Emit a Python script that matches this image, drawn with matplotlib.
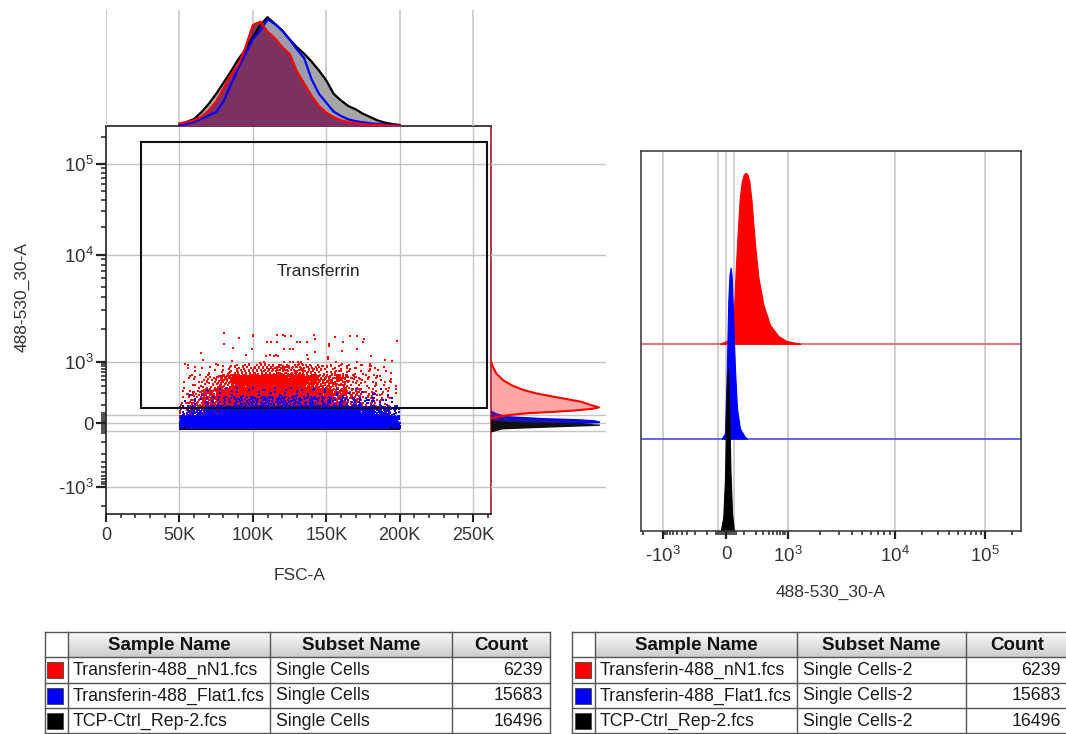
import numpy as np
import matplotlib
matplotlib.use('Agg')
import matplotlib.pyplot as plt
from matplotlib.patches import Rectangle
from matplotlib.ticker import FixedLocator, NullFormatter

plt.rcParams['font.family'] = ['Liberation Sans', 'DejaVu Sans']
plt.rcParams['mathtext.fontset'] = 'custom'
plt.rcParams['mathtext.rm'] = 'Liberation Sans'
plt.rcParams['mathtext.it'] = 'Liberation Sans:italic'
plt.rcParams['mathtext.bf'] = 'Liberation Sans:bold'

# ---------------- data ----------------
SAMPLES = ['Transferin-488_nN1.fcs', 'Transferin-488_Flat1.fcs', 'TCP-Ctrl_Rep-2.fcs']
SUBSETS_LEFT = ['Single Cells', 'Single Cells', 'Single Cells']
SUBSETS_RIGHT = ['Single Cells-2', 'Single Cells-2', 'Single Cells-2']
COUNTS = [6239, 15683, 16496]
COLORS = ['#ff0000', '#0000ff', '#000000']
TABLE_HEADERS = ['Sample Name', 'Subset Name', 'Count']

X_LABEL_LEFT = 'FSC-A'
Y_LABEL_LEFT = '488-530_30-A'
X_LABEL_RIGHT = '488-530_30-A'
GATE_NAME = 'Transferrin'
GATE_X = (23600, 259400)
GATE_Y = (82, 175000)

FSC_TICKS = [0, 50000, 100000, 150000, 200000, 250000]
FSC_TICK_LABELS = ['0', '50K', '100K', '150K', '200K', '250K']
FL_TICKS = [-1000, 0, 1000, 10000, 100000]
FL_TICK_LABELS = ['-$\\mathregular{10^3}$', '0', '$\\mathregular{10^3}$',
                  '$\\mathregular{10^4}$', '$\\mathregular{10^5}$']

# FSC-A marginal histograms (% of mode), bins 50K..200K every 5K
FSC_BINS = [50000, 55000, 60000, 65000, 70000, 75000, 80000, 85000, 90000, 95000,
            100000, 105000, 110000, 115000, 120000, 125000, 130000, 135000, 140000,
            145000, 150000, 155000, 160000, 165000, 170000, 175000, 180000, 185000,
            190000, 195000, 200000]
FSC_HIST_RED = [2.4, 3.7, 5.2, 8.5, 14, 22, 34, 46, 55, 71, 91, 94, 85, 79, 71, 65,
                49, 38, 27, 18, 12, 8, 5, 3.7, 2.4, 1.8, 1.2, 0.9, 0.6, 0.3, 0]
FSC_HIST_BLUE = [0.3, 1.8, 3.7, 6.4, 9.5, 12.5, 22, 37, 52, 65, 78, 86, 96, 92, 86, 78,
                 69, 61, 42, 29, 21, 13, 9, 6, 4.3, 3.4, 2.4, 1.8, 1.2, 0.9, 0.3]
FSC_HIST_BLACK = [0.9, 3.7, 6.4, 12.5, 20, 29, 39, 49, 60, 69, 80, 91, 98, 92, 86, 78,
                  71, 65, 58, 50, 41, 29, 23, 18, 15, 11, 8, 5, 3, 1.8, 0.9]

# 488-530_30-A marginal of the dot plot (% of mode)
MARG_RED_V = [22, 30, 40, 50, 57, 65, 75, 84, 100, 124, 145, 166, 200, 240, 300, 400, 550, 750, 1000]
MARG_RED_H = [0, 6, 17, 35, 58, 78, 94, 100, 92, 83, 70, 58, 42, 30, 20, 11, 5, 2, 0]
MARG_BLUE_V = [-30, -15, -5, 0, 5, 10, 15, 20, 30, 45, 60]
MARG_BLUE_H = [0, 5, 40, 80, 100, 95, 80, 50, 15, 5, 0]
MARG_BLACK_V = [-40, -25, -15, -8, -3, 2, 8, 15]
MARG_BLACK_H = [0, 10, 60, 100, 80, 30, 5, 0]

# offset histograms (right panel), % of mode
HIST_RED_V = [-29, 3, 28, 40, 50, 60, 72, 85, 98, 111, 125, 140, 160, 194, 232, 301, 422, 640, 962, 1218, 1310]
HIST_RED_H = [0, 1.6, 3, 20, 45, 65, 85, 95, 99, 100, 99, 95, 83, 58, 39, 23, 11, 4.5, 1.6, 0.4, 0]
HIST_BLUE_V = [-21, -5, 3, 11, 17, 23, 28, 33, 45, 56, 73, 103, 121]
HIST_BLUE_H = [0, 3, 35, 80, 96, 100, 95, 80, 41, 18, 6, 1.4, 0]
HIST_BLACK_V = [-25, -13, -5, 0, 5, 10, 15, 22, 30, 40]
HIST_BLACK_H = [0, 8, 30, 60, 88, 95, 75, 35, 10, 0]

# dot-plot event density (events per cell), FSC columns 50K..200K by 10K
FSC_COL_EDGES = [50000, 60000, 70000, 80000, 90000, 100000, 110000, 120000, 130000,
                 140000, 150000, 160000, 170000, 180000, 190000, 200000]
RED_BANDS = [0, 50, 100, 200, 400, 700, 1500]
RED_GRID = [
    [10, 15, 15, 8, 3, 1],
    [18, 30, 35, 20, 6, 1],
    [30, 70, 90, 50, 12, 2],
    [45, 130, 200, 110, 25, 4],
    [55, 180, 300, 190, 40, 6],
    [60, 200, 350, 240, 55, 8],
    [55, 190, 340, 240, 60, 10],
    [50, 170, 300, 220, 58, 10],
    [40, 130, 230, 170, 50, 9],
    [28, 85, 140, 110, 38, 8],
    [18, 50, 80, 65, 28, 7],
    [12, 30, 45, 40, 20, 6],
    [8, 18, 26, 24, 13, 5],
    [4, 9, 13, 12, 8, 3],
    [2, 4, 5, 5, 3, 2],
]
BLUE_BANDS = [-20, 0, 30, 80, 150, 250]
BLUE_COL = [150, 350, 700, 1000, 1300, 1500, 1550, 1500, 1400, 1250, 1100, 900, 700, 450, 200]
BLUE_FRAC = [0.35, 0.45, 0.17, 0.025, 0.005]
BLACK_BANDS = [-30, -15, 0]
BLACK_COL = [200, 500, 900, 1300, 1600, 1800, 1800, 1700, 1600, 1400, 1200, 1000, 800, 500, 250]
BLACK_FRAC = [0.5, 0.5]

# ---------------- biexponential-like scale ----------------
C = 100.0
ANCH_V = np.array([-1e6, -3000, -1000, 0, 1000, 10000, 100000, 262144, 1e7])
ANCH_P = np.array([-263, -95, -63.5, 0, 61.5, 168.5, 259, 297, 441])
ANCH_U = np.arcsinh(ANCH_V / C)


def fwd(v):
    return np.interp(np.arcsinh(np.asarray(v, float) / C), ANCH_U, ANCH_P)


def inv(p):
    return C * np.sinh(np.interp(np.asarray(p, float), ANCH_P, ANCH_U))


def minor_vals():
    out = []
    for s in (-1, 1):
        for m in (10, 20, 30, 40, 50):
            out.append(s * m)
        for e in (2, 3, 4, 5):
            for m in range(1, 10):
                val = m * 10 ** e
                if val in (1000, 10000, 100000):
                    continue
                if s < 0 and val > 3000:
                    continue
                if val > 262144:
                    continue
                out.append(s * val)
    return out


MINORS = minor_vals()
GRID_FL = [-1000, -40, 0, 40, 1000, 10000, 100000]

W, H = 1066, 734
fig = plt.figure(figsize=(W / 100, H / 100), dpi=100)


def fax(x0, y0, x1, y1, **kw):
    return fig.add_axes([x0 / W, 1 - y1 / H, (x1 - x0) / W, (y1 - y0) / H], **kw)


TXT = '#333333'
GRIDC = '#c4c4c4'

# ---------------- tables (background axes) ----------------
tab = fax(0, 0, W, H)
tab.set_xlim(0, W)
tab.set_ylim(H, 0)
tab.axis('off')
tab.patch.set_alpha(0)


def draw_table(edges, subsets, sw_off):
    top, hdr = 632, 657
    rows = [657, 683, 708, 733]
    grad = np.linspace(0.98, 0.80, 32)[:, None]
    tab.imshow(grad, extent=(edges[1], edges[-1], hdr, top), cmap='gray',
               vmin=0, vmax=1, aspect='auto', zorder=1, interpolation='bilinear')
    lc = '#555555'
    for y in [top, hdr] + rows[1:]:
        tab.plot([edges[0], edges[-1]], [y, y], color=lc, lw=1, zorder=2)
    for x in edges:
        tab.plot([x, x], [top, H + 5], color=lc, lw=1, zorder=2)
    for k, name in enumerate(TABLE_HEADERS):
        cx = (edges[k + 1] + edges[k + 2]) / 2
        tab.text(cx, (top + hdr) / 2 + 0.5, name, ha='center', va='center',
                 fontsize=13.5, fontweight='bold', color='#111111', zorder=3)
    for i in range(3):
        cy = (rows[i] + rows[i + 1]) / 2
        tab.add_patch(Rectangle((edges[0] + sw_off, cy - 8), 16, 16,
                                facecolor=COLORS[i], edgecolor='#444444', lw=0.6, zorder=3))
        tab.text(edges[1] + 5, cy + 0.5, SAMPLES[i], ha='left', va='center',
                 fontsize=12.8, color='#1a1a1a', zorder=3)
        tab.text(edges[2] + 6, cy + 0.5, subsets[i], ha='left', va='center',
                 fontsize=12.8, color='#1a1a1a', zorder=3)
        tab.text(edges[4] - 7, cy + 0.5, f'{COUNTS[i]}', ha='right', va='center',
                 fontsize=12.8, color='#1a1a1a', zorder=3)


draw_table([45, 68, 270, 452, 550], SUBSETS_LEFT, 2)
draw_table([572, 595, 797, 966, 1068], SUBSETS_RIGHT, 3)
tab.set_xlim(0, W)
tab.set_ylim(H, 0)

# ---------------- dot plot ----------------
ax = fax(106, 126, 491, 514)
ax.set_xlim(0, 262144)
ax.set_yscale('function', functions=(fwd, inv))
ax.set_ylim(inv(-91), inv(297))

for v in GRID_FL:
    ax.axhline(v, color=GRIDC, lw=1, zorder=0)
for x in FSC_TICKS[1:]:
    ax.axvline(x, color=GRIDC, lw=1, zorder=0)

G1, G2 = 0.7548776662466927, 0.5698402909980532


def cloud(grid, yb, color, start, z, spread_x=0.2, spread_y=0.15, size=2.0):
    xs, ys = [], []
    k = start
    for i in range(len(FSC_COL_EDGES) - 1):
        x0, x1 = FSC_COL_EDGES[i], FSC_COL_EDGES[i + 1]
        lo_x = x0 - (x1 - x0) * spread_x if i > 0 else x0
        hi_x = x1 + (x1 - x0) * spread_x if i < len(FSC_COL_EDGES) - 2 else x1
        for j in range(len(yb) - 1):
            n = int(round(grid[i][j]))
            if n <= 0:
                continue
            idx = np.arange(k, k + n)
            k += n
            fx = (0.5 + idx * G1) % 1.0
            fy = (0.5 + idx * G2) % 1.0
            p0, p1 = fwd(yb[j]), fwd(yb[j + 1])
            dp = (p1 - p0) * spread_y
            xs.append(lo_x + fx * (hi_x - lo_x))
            ys.append(inv(p0 - dp + fy * (p1 - p0 + 2 * dp)))
    xs = np.concatenate(xs)
    ys = np.concatenate(ys)
    ax.scatter(xs, ys, s=size, c=color, marker='s', linewidths=0, zorder=z, rasterized=True)


blue_grid = [[c * f for f in BLUE_FRAC] for c in BLUE_COL]
black_grid = [[c * f for f in BLACK_FRAC] for c in BLACK_COL]
cloud(RED_GRID, RED_BANDS, COLORS[0], 0, 2, spread_x=0.45, spread_y=0.4, size=3.4)
cloud(black_grid, BLACK_BANDS, COLORS[2], 7, 2.1, spread_y=0.05, size=1.8)
cloud(blue_grid, BLUE_BANDS, COLORS[1], 13, 2.2, spread_x=0.3, spread_y=0.2, size=2.2)

ax.add_patch(Rectangle((GATE_X[0], GATE_Y[0]), GATE_X[1] - GATE_X[0], GATE_Y[1] - GATE_Y[0],
                       fill=False, edgecolor='#111111', lw=1.5, zorder=3))
ax.text((GATE_X[0] + GATE_X[1]) / 2 + 3000, 6900, GATE_NAME, ha='center', va='center',
        fontsize=12.5, color='#222222', zorder=4)

for s in ('left', 'bottom'):
    ax.spines[s].set_color('#222222')
    ax.spines[s].set_linewidth(1.2)
ax.spines['top'].set_color('#333333')
ax.spines['top'].set_linewidth(1.3)
ax.spines['right'].set_color('#b02a40')
ax.spines['right'].set_linewidth(1.3)

ax.set_xticks(FSC_TICKS)
ax.set_xticklabels(FSC_TICK_LABELS)
ax.xaxis.set_minor_locator(FixedLocator(list(range(10000, 262144, 10000))))
ax.set_yticks(FL_TICKS)
ax.set_yticklabels(FL_TICK_LABELS)
ax.yaxis.set_minor_locator(FixedLocator(MINORS))
ax.yaxis.set_minor_formatter(NullFormatter())
ax.tick_params(axis='x', which='major', length=5.5, width=1.5, pad=4, labelsize=13, colors='#222222', labelcolor=TXT)
ax.tick_params(axis='x', which='minor', length=3, width=1.1, colors='#222222')
ax.tick_params(axis='y', which='major', length=7, width=1.6, pad=1.5, labelsize=13.5, colors='#222222', labelcolor=TXT)
ax.tick_params(axis='y', which='minor', length=3.5, width=1.1, colors='#222222')

# ---------------- top marginal (FSC-A) ----------------
axt = fax(106, 10, 491, 126)
axt.set_xlim(0, 262144)
axt.set_ylim(0, 104.5)
axt.axis('off')
for x in FSC_TICKS:
    axt.axvline(x, color=GRIDC, lw=1.1, zorder=0)
axt.fill_between(FSC_BINS, FSC_HIST_BLACK, color='#a6a6a6', zorder=1)
axt.fill_between(FSC_BINS, FSC_HIST_BLUE, color='#9c9cac', zorder=1.1)
axt.fill_between(FSC_BINS, FSC_HIST_RED, color='#7a2a5c', alpha=0.93, zorder=1.2)
axt.plot(FSC_BINS, FSC_HIST_BLACK, color='#000000', lw=1.6, zorder=2)
axt.plot(FSC_BINS, FSC_HIST_BLUE, color='#0000ff', lw=1.6, zorder=2.1)
axt.plot(FSC_BINS, FSC_HIST_RED, color='#ff0000', lw=1.6, zorder=2.2)

# ---------------- right marginal (488-530_30-A) ----------------
axr = fax(491, 126, 606, 514)
axr.set_yscale('function', functions=(fwd, inv))
axr.set_ylim(inv(-91), inv(297))
axr.set_xlim(0, 106.5)
axr.axis('off')
for v in GRID_FL:
    axr.axhline(v, color=GRIDC, lw=1, zorder=0)
axr.fill_betweenx(MARG_BLUE_V, 0, MARG_BLUE_H, color='#1818a8', zorder=1)
axr.plot(MARG_BLUE_H, MARG_BLUE_V, color='#0000ff', lw=1.2, zorder=1.1)
axr.fill_betweenx(MARG_BLACK_V, 0, MARG_BLACK_H, color='#101010', zorder=1.2)
axr.fill_betweenx(MARG_RED_V, 0, MARG_RED_H, color='#ff0000', alpha=0.35, lw=0, zorder=1.3)
axr.plot(MARG_RED_H, MARG_RED_V, color='#ff0000', lw=1.5, zorder=1.4)

# ---------------- offset histograms ----------------
RED_OFF, BLUE_OFF = 109.5, 54.0
axh = fax(641, 151, 1021, 531)
axh.set_xscale('function', functions=(fwd, inv))
axh.set_xlim(inv(-85), inv(295))
axh.set_ylim(0, 222.2)
for v in GRID_FL:
    axh.axvline(v, color=GRIDC, lw=1.1, zorder=0)
axh.axhline(RED_OFF, color='#e0505e', lw=1.1, zorder=1)
axh.fill_between(HIST_RED_V, RED_OFF, [RED_OFF + h for h in HIST_RED_H], color=COLORS[0], lw=0.8, zorder=1.1)
axh.axhline(BLUE_OFF, color='#3a3aff', lw=1.1, zorder=1.2)
axh.fill_between(HIST_BLUE_V, BLUE_OFF, [BLUE_OFF + h for h in HIST_BLUE_H], color=COLORS[1], lw=0.8, zorder=1.3)
axh.fill_between(HIST_BLACK_V, 0, HIST_BLACK_H, color=COLORS[2], lw=0.8, zorder=1.4)
for s in axh.spines.values():
    s.set_color('#333333')
    s.set_linewidth(1.1)
axh.set_yticks([])
axh.set_xticks(FL_TICKS)
axh.set_xticklabels(FL_TICK_LABELS)
axh.xaxis.set_minor_locator(FixedLocator(MINORS))
axh.xaxis.set_minor_formatter(NullFormatter())
axh.tick_params(axis='x', which='major', length=6, width=1.6, pad=5, labelsize=13.5, colors='#222222', labelcolor=TXT)
axh.tick_params(axis='x', which='minor', length=3.2, width=1.1, colors='#222222')

# ---------------- axis titles ----------------
fig.text(22 / W, 1 - 297 / H, Y_LABEL_LEFT, rotation=90, ha='center', va='center', fontsize=12.5, color=TXT)
fig.text(300 / W, 1 - 576 / H, X_LABEL_LEFT, ha='center', va='center', fontsize=12.5, color=TXT)
fig.text(831 / W, 1 - 592 / H, X_LABEL_RIGHT, ha='center', va='center', fontsize=12.5, color=TXT)

fig.savefig('out.png', dpi=100)
